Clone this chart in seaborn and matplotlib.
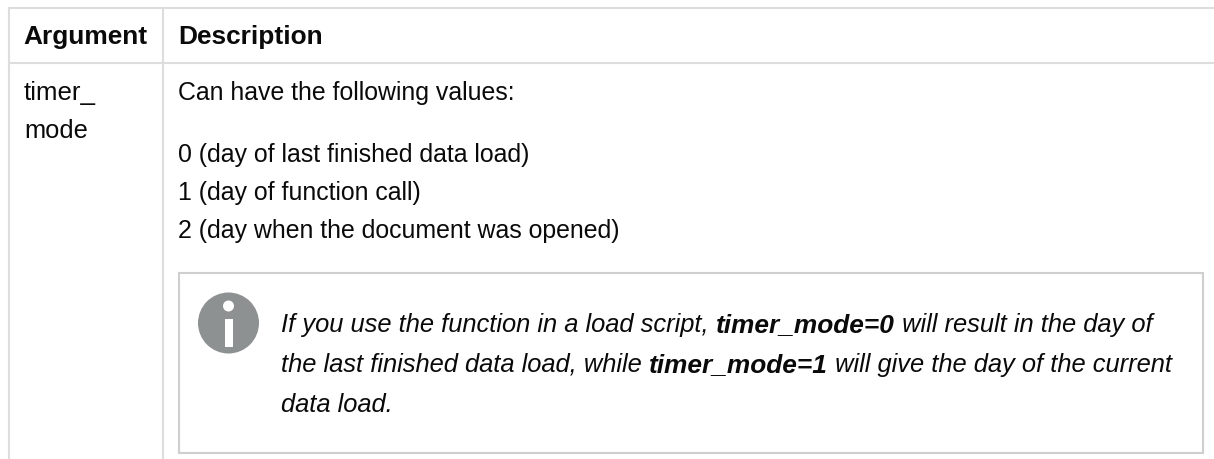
import matplotlib.pyplot as plt
from matplotlib.patches import Circle, Rectangle
import seaborn as sns

headers = ["Argument", "Description"]
arg_lines = ["timer_", "mode"]
intro = "Can have the following values:"
value_lines = [
    "0 (day of last finished data load)",
    "1 (day of function call)",
    "2 (day when the document was opened)",
]
# note text, each line is a list of (text, is_bold)
note_lines = [
    [("If you use the function in a load script, ", False), ("timer_mode=0", True), (" will result in the day of", False)],
    [("the last finished data load, while ", False), ("timer_mode=1", True), (" will give the day of the current", False)],
    [("data load.", False)],
]

TEXT_PT = 17.9
NOTE_PT = 18.35
BOLD_PT = 18.9
RULE = "#dddddd"
BOX = "#cfcfcf"
ICON = "#8e9192"

sns.set_theme(style="white")
plt.rcParams["font.family"] = ["Liberation Sans", "DejaVu Sans"]

fig, ax = plt.subplots(figsize=(12.14, 4.6), dpi=100)
ax.set_position([0, 0, 1, 1])
ax.set_xlim(0, 1214)
ax.set_ylim(460, 0)
ax.axis("off")
sns.despine(ax=ax, left=True, bottom=True)

# table rules
ax.hlines([8.5, 63.5], 8, 1214, color=RULE, lw=1.5)
ax.vlines([8.5, 163], 8, 460, color=RULE, lw=1.5)

# note box
ax.add_patch(Rectangle((179, 274), 1024, 180, fill=False, ec=BOX, lw=1.5))

# info icon
ax.add_patch(Circle((228.5, 324), 30.5, color=ICON, lw=0))
ax.add_patch(Circle((228.5, 307), 5.5, color="white", lw=0))
ax.add_patch(Rectangle((224.5, 320), 8.5, 28, color="white", lw=0))


def put(x, y, s, size=TEXT_PT, **kw):
    return ax.text(x, y, s, fontsize=size, color="#0a0a0a", va="baseline", **kw)


def draw_runs(x, y, runs):
    # bold and italic runs side by side on one baseline
    rend = fig.canvas.get_renderer()
    for s, is_bold in runs:
        weight = "bold" if is_bold else "normal"
        size = BOLD_PT if is_bold else NOTE_PT
        t = put(x, y, s + "|", size=size, style="italic", weight=weight)
        w = t.get_window_extent(rend).width
        t.set_text("|")
        w -= t.get_window_extent(rend).width
        t.set_text(s)
        x += w


put(23.5, 44, headers[0], size=BOLD_PT, weight="bold")
put(178, 44, headers[1], size=BOLD_PT, weight="bold")
put(24, 100, arg_lines[0], size=18.6)
put(24, 138, arg_lines[1], size=18.4)
put(178.5, 100, intro)
for y, line in zip([162, 200, 238], value_lines):
    put(178.5, y, line)
for y, runs in zip([332, 372, 412], note_lines):
    draw_runs(281, y, runs)

fig.savefig("out.png", dpi=100, facecolor="white")
